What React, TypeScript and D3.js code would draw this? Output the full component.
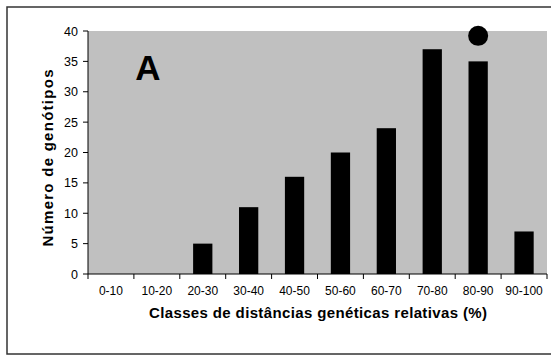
import React from "react";
import * as d3 from "d3";

const categories = ["0-10", "10-20", "20-30", "30-40", "40-50", "50-60", "60-70", "70-80", "80-90", "90-100"];
const counts = [0, 0, 5, 11, 16, 20, 24, 37, 35, 7];
const yTicks = [0, 5, 10, 15, 20, 25, 30, 35, 40];
const markedCategory = "80-90";
const markerValue = 39.2;

export default function App() {
  const W = 551, H = 359;
  const left = 88, right = 547, top = 31, bottom = 274;
  const x = d3.scaleBand<string>().domain(categories).range([left, right]).paddingInner(0.58).paddingOuter(0.29);
  const xb = d3.scaleBand<string>().domain(categories).range([left, right]);
  const y = d3.scaleLinear().domain([0, 40]).range([bottom, top]);
  const font = "'Liberation Sans', Arial, sans-serif";
  return (
    <svg width={W} height={H} style={{ position: "absolute", left: 0, top: 0 }} fontFamily={font}>
      <rect x={0} y={0} width={W} height={H} fill="#fff" />
      <rect x={7} y={7} width={W} height={347} fill="none" stroke="#333" strokeWidth={1.5} />
      <rect x={left} y={top} width={right - left} height={bottom - top} fill="#c0c0c0" />
      {categories.map((c, i) => (
        <rect key={c} x={x(c)} y={y(counts[i])} width={x.bandwidth()} height={bottom - y(counts[i])} fill="#000" />
      ))}
      <circle cx={(x(markedCategory) ?? 0) + x.bandwidth() / 2} cy={y(markerValue)} r={10} fill="#000" />
      <line x1={left} x2={left} y1={top} y2={bottom} stroke="#000" />
      <line x1={left} x2={right} y1={bottom} y2={bottom} stroke="#000" />
      {yTicks.map((t) => (
        <g key={t}>
          <line x1={left - 5} x2={left} y1={y(t)} y2={y(t)} stroke="#000" />
          <text x={left - 10} y={y(t) + 4.5} textAnchor="end" fontSize={12.5}>{t}</text>
        </g>
      ))}
      {categories.map((c) => (
        <g key={c}>
          <line x1={(xb(c) ?? 0) + xb.bandwidth()} x2={(xb(c) ?? 0) + xb.bandwidth()} y1={bottom} y2={bottom + 5} stroke="#000" />
          <text x={(xb(c) ?? 0) + xb.bandwidth() / 2} y={294.5} textAnchor="middle" fontSize={12}>{c}</text>
        </g>
      ))}
      <line x1={left} x2={left} y1={bottom} y2={bottom + 5} stroke="#000" />
      <text x={148} y={80} textAnchor="middle" fontSize={35} fontWeight="bold">A</text>
      <text x={318} y={318} textAnchor="middle" fontSize={15} fontWeight="bold" textLength={338} lengthAdjust="spacing">Classes de distâncias genéticas relativas (%)</text>
      <text transform={`translate(53,158) rotate(-90)`} textAnchor="middle" fontSize={15} fontWeight="bold" textLength={177} lengthAdjust="spacing">Número de genótipos</text>
    </svg>
  );
}
